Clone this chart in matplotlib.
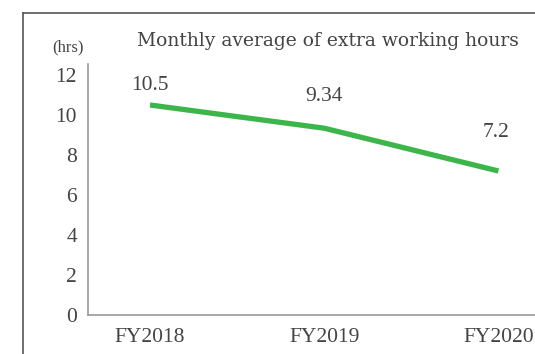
import matplotlib
matplotlib.use("Agg")
import matplotlib.pyplot as plt
from matplotlib.lines import Line2D

# monthly average overtime per fiscal year
years = ["FY2018", "FY2019", "FY2020"]
hours = [10.5, 9.34, 7.2]
value_labels = ["10.5", "9.34", "7.2"]
yticks = [0, 2, 4, 6, 8, 10, 12]

W, H = 535, 354
plt.rcParams['font.family'] = ['Liberation Serif', 'DejaVu Serif']
text_col = "#444444"

fig = plt.figure(figsize=(W / 100, H / 100), dpi=100)
ax = fig.add_axes([88 / W, 1 - 315 / H, 1 - 88 / W, (315 - 64) / H])

x = list(range(len(years)))
ax.plot(x, hours, color="#3cb54a", lw=3.8, solid_capstyle="butt")

# value labels above each point (offsets in points)
offsets = [(0, 7), (0, 16), (-2, 21)]
for xi, v, lab, off in zip(x, hours, value_labels, offsets):
    ax.annotate(lab, (xi, v), xytext=off, textcoords="offset points",
                ha="center", va="bottom", fontsize=15.5, color=text_col)

ax.set_xlim(-0.356, 2.21)
ax.set_ylim(0, 12.55)
ax.set_xticks(x)
ax.set_xticklabels(years)
ax.set_yticks(yticks)
ax.tick_params(length=0, labelsize=15.5, labelcolor=text_col)
ax.tick_params(axis="y", pad=8)
ax.tick_params(axis="x", pad=9)
for s in ["top", "right"]:
    ax.spines[s].set_visible(False)
for s in ["left", "bottom"]:
    ax.spines[s].set_color("#9a9a9a")
    ax.spines[s].set_linewidth(1.2)

fig.text(328 / W, 1 - 41 / H, "Monthly average of extra working hours",
         ha="center", va="center", fontsize=13.5, color=text_col,
         family="DejaVu Serif")
fig.text(68 / W, 1 - 47 / H, "(hrs)", ha="center", va="center",
         fontsize=12, color=text_col)

# outer frame, running off the right and bottom edges
fx, fy = 23 / W, 1 - 13 / H
fig.add_artist(Line2D([fx, fx], [0, fy], transform=fig.transFigure,
                      color="#555555", lw=1.2))
fig.add_artist(Line2D([fx, 1], [fy, fy], transform=fig.transFigure,
                      color="#555555", lw=1.2))

fig.savefig("out.png", dpi=100)
